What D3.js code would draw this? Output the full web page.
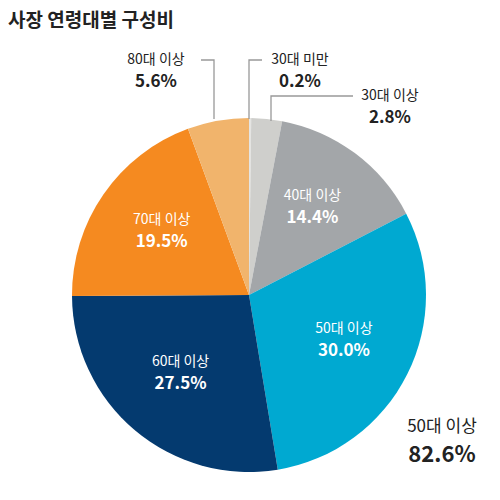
<!DOCTYPE html>
<html><head><meta charset="utf-8">
<script src="https://cdn.jsdelivr.net/npm/d3@7"></script>
<style>body{margin:0;background:#fff}text{font-family:"Noto Sans CJK KR","Noto Sans",sans-serif}</style>
</head><body><svg id="c" width="500" height="500"></svg>
<script>
const categories = ["30대 미만","30대 이상","40대 이상","50대 이상","60대 이상","70대 이상","80대 이상"];
const values = [0.2, 2.8, 14.4, 30.0, 27.5, 19.5, 5.6];
const colors = ["#e4e4e2","#cfcfcc","#a3a6a9","#00a9d1","#043a6f","#f58a20","#f1b46c"];
const svg = d3.select("#c");
const cx = 249, cy = 295, r = 177;
svg.append("text").attr("x",8).attr("y",27).attr("font-size",19).attr("font-weight",700).attr("fill","#222").text("사장 연령대별 구성비");
const pie = d3.pie().sort(null).value(d=>d)(values);
const arc = d3.arc().innerRadius(0).outerRadius(r);
const g = svg.append("g").attr("transform",`translate(${cx},${cy})`);
g.selectAll("path").data(pie).join("path").attr("d",arc).attr("fill",(d,i)=>colors[i]);
const inner = d3.arc().innerRadius(r*0.6).outerRadius(r*0.6);
[2,3,4,5].forEach(i=>{
  const [x,y] = inner.centroid(pie[i]);
  g.append("text").attr("text-anchor","middle").attr("fill","#fff").attr("x",x).attr("y",y-10).attr("font-size",14).text(categories[i]);
  g.append("text").attr("text-anchor","middle").attr("fill","#fff").attr("x",x).attr("y",y+13).attr("font-size",17).attr("font-weight",600).text(values[i].toFixed(1)+"%");
});
const line = (pts)=>svg.append("polyline").attr("points",pts.map(p=>p.join(",")).join(" ")).attr("fill","none").attr("stroke","#999").attr("stroke-width",1.3);
function ext(x,y,i){
  svg.append("text").attr("text-anchor","middle").attr("fill","#222").attr("x",x).attr("y",y).attr("font-size",14).text(categories[i]);
  svg.append("text").attr("text-anchor","middle").attr("fill","#222").attr("x",x).attr("y",y+23).attr("font-size",17).attr("font-weight",600).text(values[i].toFixed(1)+"%");
}
line([[201,60],[214,60],[214,119]]);
ext(156,64,6);
line([[262,60],[249,60],[249,119]]);
ext(300,64,0);
line([[353,96],[271,96],[271,121]]);
ext(390,100,1);
svg.append("text").attr("text-anchor","middle").attr("fill","#222").attr("x",442).attr("y",432).attr("font-size",17).text("50대 이상");
svg.append("text").attr("text-anchor","middle").attr("fill","#222").attr("x",442).attr("y",462).attr("font-size",22).attr("font-weight",600).text("82.6%");
</script></body></html>
